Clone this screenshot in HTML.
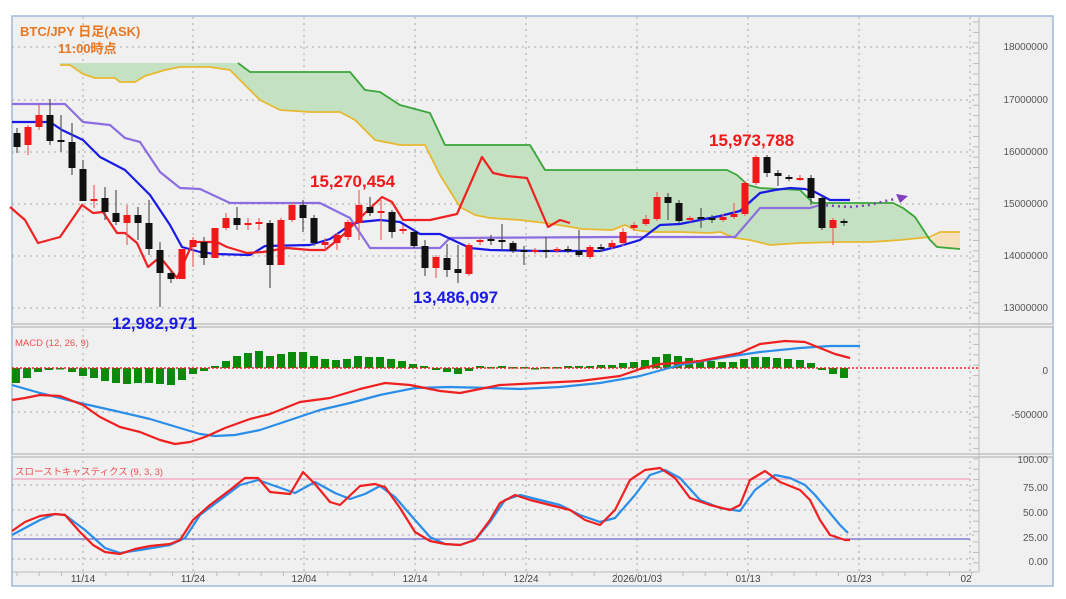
<!DOCTYPE html>
<html><head><meta charset="utf-8"><style>
html,body{margin:0;padding:0;background:#fff;width:1066px;height:599px;overflow:hidden}
svg{display:block;font-family:"Liberation Sans","Noto Sans CJK JP",sans-serif}
</style></head><body>
<svg id="s" width="1066" height="599" xmlns="http://www.w3.org/2000/svg">
<rect x="12" y="16" width="1041" height="570" fill="#f0f0f0" stroke="#9db8d8" stroke-width="1.5"/>
<g id="grid" stroke="#a8a8a8" stroke-width="1" stroke-dasharray="2,4"></g>
<g id="cloud"></g>
<g id="lines" fill="none" stroke-width="2.2" stroke-linejoin="round"></g>
<g id="candles"></g>
<g id="sep"></g>
<g id="txt"></g>
</svg>
<script>
const NS="http://www.w3.org/2000/svg";
function el(p,t,a,txt){const e=document.createElementNS(NS,t);for(const k in a)e.setAttribute(k,a[k]);if(txt!=null)e.textContent=txt;document.getElementById(p).appendChild(e);return e;}
function pl(p,pts,stroke,w,extra){const a={points:pts.map(q=>q.join(',')).join(' '),fill:'none',stroke:stroke,'stroke-width':w||2.2,'stroke-linejoin':'round'};Object.assign(a,extra||{});return el(p,'polyline',a);}
// grid
[47,100,152,204,256,308,412,485,510,535,559].forEach(y=>el('grid','line',{x1:12,x2:978,y1:y,y2:y}));
[83,193,304,415,526,637,748,859,970].forEach(x=>el('grid','line',{x1:x,x2:x,y1:17,y2:572}));
// cloud
const B=[[60,65],[70,65],[83,74],[95,78],[115,78],[120,82],[135,82],[145,76],[165,70],[180,67],[210,67],[230,70],[240,80],[260,100],[280,110],[310,112],[340,112],[355,120],[375,140],[400,145],[425,145],[440,175],[460,207],[475,215],[490,218],[520,220],[545,223],[565,226],[582,229],[612,230],[625,225],[635,230],[650,232],[680,232],[710,233],[720,232],[735,238],[750,240],[770,245],[800,243],[840,242],[870,242],[900,240],[930,237]];
const A=[[60,63],[188,63],[238,63],[250,72],[350,72],[365,90],[380,92],[400,105],[430,113],[445,145],[530,145],[545,170],[727,170],[737,175],[748,185],[760,188],[800,190],[813,203],[893,203],[903,208],[915,217],[930,240]];
const fillPts=A.concat(B.slice().reverse());
el('cloud','polygon',{points:fillPts.map(q=>q.join(',')).join(' '),fill:'#c4e2c2'});
el('cloud','polygon',{points:'930,240 940,232 960,232 960,250 945,249 935,247',fill:'#f6e0bc'});
pl('cloud',B.concat([[940,232],[960,232]]),'#e8b830',1.8);
pl('cloud',A.slice(2).concat([[937,247],[960,249]]),'#3aa53a',1.8);
// kijun
pl('lines',[[12,104],[65,104],[83,122],[110,125],[125,138],[140,142],[160,172],[180,188],[200,189],[230,203],[320,203],[350,218],[370,248],[440,248],[450,238],[620,237],[735,237],[760,208],[810,208],[820,205]],'#8c6ee0',2.2);
pl('lines',[[820,205],[850,207],[870,205],[885,201],[895,199]],'#8040c0',2.5,{'stroke-dasharray':'2,4'});
el('lines','polygon',{points:'896,194 908,196 900,203',fill:'#8040c0',stroke:'none'});
// tenkan
pl('lines',[[12,122],[50,122],[62,130],[83,140],[100,157],[125,170],[150,195],[170,225],[182,247],[200,252],[215,254],[250,255],[265,246],[310,245],[330,239],[350,225],[360,222],[380,220],[400,222],[420,234],[440,234],[470,248],[490,250],[540,251],[600,251],[620,246],[640,240],[660,225],[680,224],[700,220],[720,216],[740,211],[760,193],[775,190],[790,188],[805,189],[815,192],[830,200],[850,200]],'#1a1ae6',2.2);
// chikou
pl('lines',[[10,207],[25,220],[38,243],[60,237],[82,205],[93,213],[103,212],[117,233],[125,233],[137,243],[148,267],[160,257],[177,278],[193,242],[217,242],[227,247],[247,253],[263,252],[287,248],[310,250],[325,250],[340,238],[363,215],[382,197],[392,202],[403,220],[430,220],[457,214],[482,157],[493,173],[507,176],[527,178],[548,227],[560,220],[570,223]],'#ee2222',2.2);
// candles [x,o,c,h,l] y pixels
const C=[[17,133,147,128,153,0],[28,145,127,125,155,1],[39,127,115,105,130,1],[50,115,141,99,145,0],[61,140,142,115,152,0],[72,142,168,123,175,0],[83,169,201,160,201,0],[94,199,199,185,208,1],[105,198,212,187,220,0],[116,213,222,190,225,0],[127,223,215,205,245,1],[138,215,223,207,240,0],[149,223,249,200,255,0],[160,250,273,242,307,0],[171,273,279,270,283,0],[182,279,249,249,279,1],[193,247,240,237,267,1],[204,242,258,237,265,0],[215,258,228,228,258,1],[226,228,218,213,230,1],[237,218,225,207,230,0],[248,225,223,218,230,1],[259,224,222,218,230,1],[270,223,265,220,288,0],[281,265,220,218,265,1],[292,220,205,202,222,1],[303,205,218,200,232,0],[314,218,243,215,246,0],[325,245,242,238,250,1],[337,243,235,233,250,1],[348,237,222,220,240,1],[359,223,205,190,240,1],[370,207,213,197,216,0],[381,213,211,200,240,1],[392,212,232,210,238,0],[403,231,229,225,234,1],[414,232,246,230,248,0],[425,246,268,240,276,0],[436,268,257,255,278,1],[447,258,270,244,277,0],[458,269,273,245,283,0],[469,274,245,243,276,1],[480,242,240,238,245,1],[491,239,241,235,245,0],[502,240,242,224,250,0],[513,243,251,241,253,0],[524,250,252,246,265,0],[535,252,250,248,254,1],[546,250,252,237,258,0],[557,251,249,247,253,1],[568,249,251,246,253,0],[579,251,255,230,257,0],[590,257,247,245,259,1],[601,247,249,244,252,0],[612,247,243,240,249,1],[623,243,232,228,246,1],[634,228,225,222,231,1],[646,224,219,215,226,1],[657,219,197,192,221,1],[668,197,203,193,220,0],[679,203,221,200,223,0],[690,220,218,216,222,1],[701,217,219,208,228,0],[712,218,220,215,223,0],[723,220,217,214,222,1],[734,217,214,203,219,1],[745,214,183,181,216,1],[756,183,157,155,185,1],[767,157,173,155,177,0],[778,173,176,170,186,0],[789,177,179,175,181,0],[800,178,178,175,181,1],[811,178,198,175,205,0],[822,198,228,196,230,0],[833,228,220,218,245,1],[844,221,223,219,226,0]];
C.forEach(c=>{const[x,o,cl,h,l,up]=c;const col=up?'#f01818':'#111';
el('candles','line',{x1:x,x2:x,y1:h,y2:l,stroke:up?'#f06060':'#555','stroke-width':1.2});
const t=Math.min(o,cl),hh=Math.max(2,Math.abs(o-cl));el('candles','rect',{x:x-3.5,y:t,width:7,height:hh,fill:col});});
// MACD hist
const H=[[16,383],[27,378],[38,372],[49,370],[60,369],[72,372],[83,376],[94,378],[105,381],[116,383],[127,384],[138,383],[149,383],[160,384],[171,385],[182,380],[193,374],[204,371],[215,366],[226,361],[237,356],[248,353],[259,351],[270,356],[281,354],[292,352],[303,352],[314,356],[325,359],[336,360],[347,359],[358,356],[369,357],[380,357],[391,359],[402,361],[413,364],[424,366],[436,370],[447,372],[458,374],[469,371],[480,366],[491,367],[502,366],[513,367],[524,367],[535,369],[546,367],[557,367],[568,366],[579,366],[590,366],[601,365],[612,365],[623,363],[634,362],[645,360],[656,357],[667,354],[678,356],[689,358],[700,360],[711,361],[722,362],[733,362],[744,359],[755,357],[766,357],[777,358],[788,359],[800,360],[811,363],[822,370],[833,374],[844,378]];
H.forEach(([x,y])=>{el('candles','rect',{x:x-4,y:Math.min(y,368),width:8,height:Math.max(1.5,Math.abs(y-368)),fill:'#0a8a0a'});});
el('candles','line',{x1:12,x2:978,y1:368,y2:368,stroke:'#f02020','stroke-width':1.5,'stroke-dasharray':'2,2'});
pl('candles',[[12,385],[40,393],[80,403],[120,412],[150,419],[180,428],[200,434],[215,436],[235,435],[260,430],[290,420],[320,410],[350,403],[380,395],[415,388],[450,387],[490,388],[520,389],[560,387],[600,383],[640,376],[680,365],[720,358],[760,352],[800,348],[830,346],[860,346]],'#2a8ee8',2.2);
pl('candles',[[12,400],[25,398],[40,395],[60,396],[83,405],[100,417],[120,427],[140,432],[160,440],[175,444],[190,442],[205,437],[225,428],[250,419],[270,414],[300,402],[330,398],[360,389],[385,383],[410,385],[440,391],[460,393],[480,389],[500,385],[540,383],[580,381],[620,376],[640,369],[660,364],[680,363],[700,361],[740,353],[760,344],[785,341],[805,342],[820,348],[835,354],[850,358]],'#f02020',2.2);
// stoch
el('candles','line',{x1:12,x2:970,y1:479,y2:479,stroke:'#f4a0b8','stroke-width':1.3});
el('candles','line',{x1:12,x2:970,y1:539,y2:539,stroke:'#6a6ad0','stroke-width':1.3});
pl('candles',[[12,535],[25,528],[40,520],[55,514],[65,515],[85,530],[105,548],[120,553],[140,550],[170,545],[185,538],[200,515],[220,500],[240,485],[258,480],[275,486],[295,493],[315,482],[335,493],[350,499],[365,494],[380,486],[395,497],[415,520],[430,537],[445,544],[460,545],[475,540],[490,522],[505,500],[520,495],[540,500],[560,505],[580,515],[600,522],[615,518],[635,495],[650,475],[665,470],[680,478],[700,500],[720,508],[740,511],[755,490],[775,475],[790,478],[805,485],[815,495],[830,513],[840,525],[848,533]],'#2a8ee8',2.2);
pl('candles',[[12,531],[25,522],[40,516],[55,514],[65,515],[80,532],[93,545],[105,552],[120,554],[135,549],[150,546],[170,544],[180,540],[193,520],[210,505],[230,490],[245,478],[258,478],[270,492],[290,494],[303,472],[315,484],[330,502],[340,505],[360,486],[375,484],[385,487],[400,508],[415,532],[430,541],[445,544],[460,545],[475,540],[490,520],[500,503],[515,495],[530,500],[550,505],[570,510],[585,520],[600,525],[615,510],[630,480],[645,470],[660,468],[675,478],[690,498],[710,505],[730,510],[740,505],[750,480],[765,471],[780,482],[800,490],[810,500],[820,520],[830,535],[845,540],[850,540]],'#f02020',2.2);
// separators
[[324,326],[454,456]].forEach(([a,b])=>{el('sep','rect',{x:12,y:a-1,width:1041,height:4,fill:'#f0f0f0'});el('sep','line',{x1:12,x2:1053,y1:a,y2:a,stroke:'#aaa'});el('sep','line',{x1:12,x2:1053,y1:b+1,y2:b+1,stroke:'#aaa'});});
el('sep','line',{x1:979,x2:979,y1:17,y2:572,stroke:'#bbb'});
el('sep','line',{x1:12,x2:979,y1:572,y2:572,stroke:'#bbb'});
for(let y=22;y<570;y+=10.4)el('sep','line',{x1:973,x2:979,y1:y,y2:y,stroke:'#bbb'});
for(let x=17;x<975;x+=22.2)el('sep','line',{x1:x,x2:x,y1:572,y2:576,stroke:'#bbb'});
// text
const t=(x,y,s,sz,col,w,anc)=>el('txt','text',{x:x,y:y,'font-size':sz,fill:col,'font-weight':w||'normal','text-anchor':anc||'start'},s);
[[47,'18000000'],[100,'17000000'],[152,'16000000'],[204,'15000000'],[256,'14000000'],[308,'13000000'],[371,'0'],[415,'-500000'],[488,'75.00'],[513,'50.00'],[538,'25.00'],[562,'0.00']].forEach(([y,s])=>t(1048,y+3,s,10,'#555','normal','end'));
t(1048,463,'100.00',10,'#555','normal','end');
[[83,'11/14'],[193,'11/24'],[304,'12/04'],[415,'12/14'],[526,'12/24'],[637,'2026/01/03'],[748,'01/13'],[859,'01/23'],[966,'02']].forEach(([x,s])=>t(x,582,s,10,'#444','normal','middle'));
t(20,36,'BTC/JPY 日足(ASK)',13,'#e87722','bold');
t(58,53,'11:00時点',13,'#e87722','bold');
t(310,187,'15,270,454',17,'#f01818','bold');
t(709,146,'15,973,788',17,'#f01818','bold');
t(413,303,'13,486,097',17,'#1a1ae6','bold');
t(112,329,'12,982,971',17,'#1a1ae6','bold');
t(15,346,'MACD (12, 26, 9)',9.5,'#f05050');
t(15,475,'スローストキャスティクス (9, 3, 3)',9.5,'#f05050');
</script>
</body></html>
